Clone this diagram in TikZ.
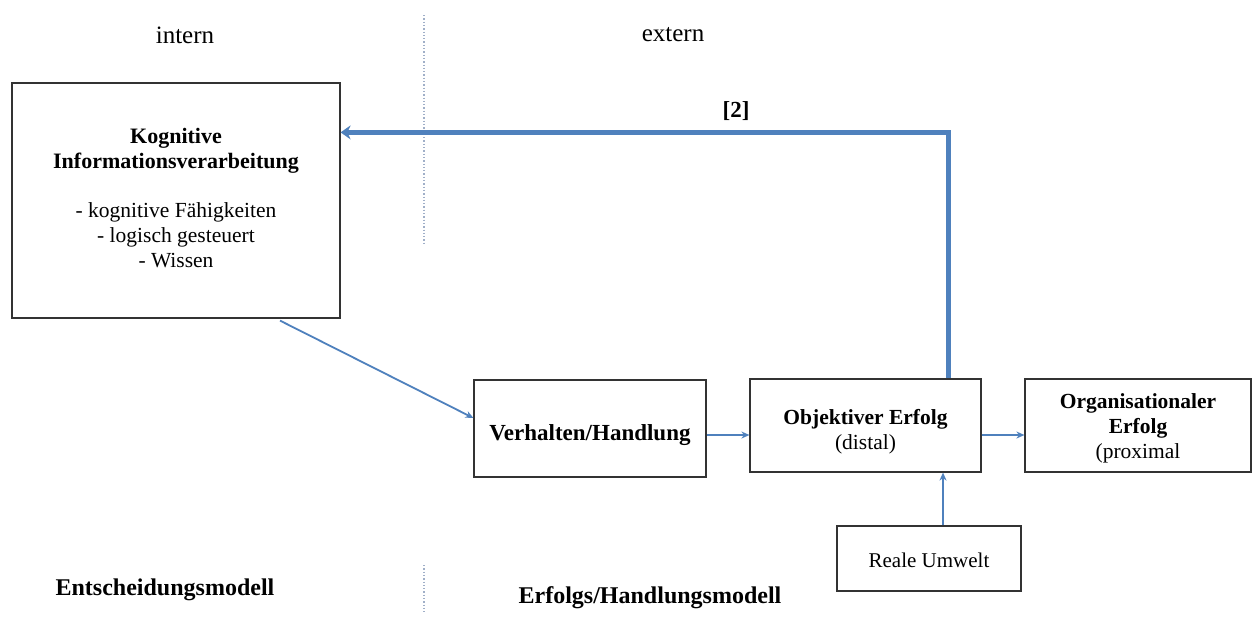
\documentclass[tikz,border=0pt]{standalone}
\usepackage{fontspec}
\setmainfont{Liberation Serif}
\usetikzlibrary{calc,arrows.meta}
\definecolor{linkblue}{RGB}{79,129,189}
\definecolor{divider}{RGB}{160,175,200}
\tikzset{
  box/.style={draw=black!80, line width=1.2pt, rectangle, inner sep=0pt},
  boxtext/.style={align=center, inner sep=0pt, font=\fontsize{21.5}{25}\selectfont},
  flow/.style={draw=linkblue, line width=1.8pt, -{Stealth[length=8pt,width=7pt]}},
  feedback/.style={draw=linkblue, line width=5pt, -{Stealth[length=10pt,width=14pt]}},
  sidelabel/.style={font=\fontsize{25}{29}\selectfont},
  modellabel/.style={font=\fontsize{24}{28}\selectfont\bfseries},
  divline/.style={draw=divider, line width=1.3pt, dotted}
}
\begin{document}
\begin{tikzpicture}[x=1pt,y=-1pt]
\useasboundingbox[fill=white] (0,0) rectangle (1252,621);

% divider between the internal and external part
\coordinate (dtop) at (424,15);
\coordinate (dmid) at (424,245);
\coordinate (dlow) at (424,565);
\coordinate (dbot) at (424,612);
\draw[divline] (dtop) -- (dmid);
\draw[divline] (dlow) -- (dbot);

\node[sidelabel] (intern) at (185,35) {intern};
\node[sidelabel] (extern) at (673,35) {extern};

% boxes
\node[box, minimum width=328pt, minimum height=235pt] (kog) at (176,200.5) {};
\node[box, minimum width=232pt, minimum height=97pt] (verh) at (590,428.5) {};
\node[box, minimum width=231pt, minimum height=93pt] (obj) at (865.5,425.5) {};
\node[box, minimum width=226pt, minimum height=93pt] (org) at (1138,425.5) {};
\node[box, minimum width=184pt, minimum height=65pt] (reale) at (929,558.5) {};

% box texts
\node[boxtext] (kogtext) at ($(kog.center)+(0,-2)$)
  {\textbf{\fontsize{22}{25}\selectfont Kognitive}\\\textbf{\fontsize{22}{25}\selectfont Informationsverarbeitung}\\[24pt]
   - kognitive Fähigkeiten\\- logisch gesteuert\\- Wissen};
\node[boxtext, font=\fontsize{23}{25}\selectfont\bfseries] (verhtext) at ($(verh.center)+(0,7)$)
  {Verhalten/Handlung};
\node[boxtext] (objtext) at ($(obj.center)+(0,6)$)
  {\textbf{Objektiver Erfolg}\\(distal)};
\node[boxtext] (orgtext) at ($(org.center)+(0,3)$)
  {\textbf{Organisationaler}\\\textbf{Erfolg}\\(proximal};
\node[boxtext, font=\fontsize{21}{25}\selectfont] (realetext) at ($(reale.center)+(0,2)$)
  {Reale Umwelt};

% connectors
\coordinate (kout) at ($(kog.south)+(104,2)$);
\coordinate (vin) at ($(verh.west)+(0,-10.5)$);
\draw[flow] (kout) -- (vin);

\coordinate (vout) at ($(verh.east)+(0,6.5)$);
\draw[flow] (vout) -- (vout -| obj.west);

\coordinate (oout) at ($(obj.east)+(0,9.5)$);
\draw[flow] (oout) -- (oout -| org.west);

\coordinate (rup) at ($(reale.north)+(14,0)$);
\draw[flow] (rup) -- (rup |- obj.south);

\coordinate (fstart) at ($(obj.north)+(82.5,0)$);
\coordinate (fend) at ($(kog.north east)+(0,50)$);
\draw[feedback] (fstart) |- (fend);
\node[font=\fontsize{23}{26}\selectfont\bfseries] (fblabel) at (736,111) {[2]};

% model labels
\node[modellabel] (entsch) at (165,590) {Entscheidungsmodell};
\node[modellabel] (erfolg) at (650,598) {Erfolgs/Handlungsmodell};
\end{tikzpicture}
\end{document}
